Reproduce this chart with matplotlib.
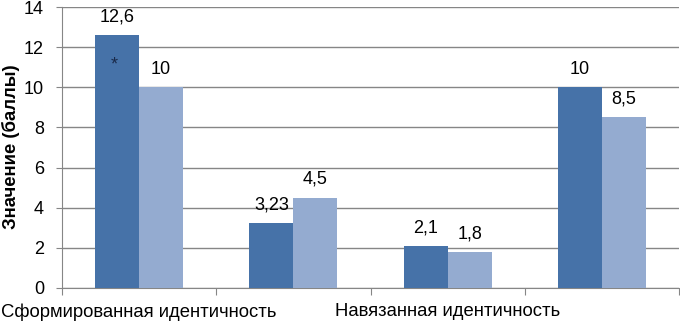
import matplotlib
matplotlib.use("Agg")
import matplotlib.pyplot as plt
import numpy as np

plt.rcParams['font.family'] = ['Liberation Sans', 'DejaVu Sans']

categories = ["Сформированная идентичность", "", "Навязанная идентичность", ""]
series1 = [12.6, 3.23, 2.1, 10]
series2 = [10, 4.5, 1.8, 8.5]
labels1 = ["12,6", "3,23", "2,1", "10"]
labels2 = ["10", "4,5", "1,8", "8,5"]
ylabel = "Значение (баллы)"

c1 = "#4672A8"
c2 = "#94ABD0"
grid_c = "#868686"

fig = plt.figure(figsize=(6.8, 3.21), dpi=100)
ax = fig.add_axes([62/680, 1-288/321, (679-62)/680, (288-7)/321])

x = np.arange(len(categories))
w = 0.285
b1 = ax.bar(x - w/2, series1, w, color=c1, zorder=3)
b2 = ax.bar(x + w/2, series2, w, color=c2, zorder=3)

fs = 13
for rect, lab in zip(b1, labels1):
    ax.annotate(lab, (rect.get_x() + rect.get_width()/2, rect.get_height()),
                xytext=(0, 7), textcoords="offset points", ha="center", va="bottom",
                fontsize=fs, color="black")
for rect, lab in zip(b2, labels2):
    ax.annotate(lab, (rect.get_x() + rect.get_width()/2, rect.get_height()),
                xytext=(0, 7), textcoords="offset points", ha="center", va="bottom",
                fontsize=fs, color="black")

# asterisk inside first bar
ax.text(x[0] - w/2 - 0.02, 11.1, "*", ha="center", va="center", fontsize=13, color="#1a2a4a", zorder=4)

ax.set_xlim(-0.5, len(categories) - 0.5)
ax.set_ylim(0, 14)
ax.set_yticks(np.arange(0, 15, 2))
ax.yaxis.grid(True, color=grid_c, linewidth=1, zorder=0)
ax.set_axisbelow(True)

ax.set_xticks(np.arange(-0.5, len(categories), 1))
ax.set_xticklabels([])
ax.set_xticks(x, minor=True)
ax.set_xticklabels(categories, minor=True, fontsize=13.3)
ax.tick_params(axis='x', which='minor', length=0, pad=11)
ax.tick_params(axis='x', which='major', length=5, color=grid_c, direction='out')
ax.tick_params(axis='y', length=4, color=grid_c, labelsize=fs, pad=9)

for s in ["top", "right"]:
    ax.spines[s].set_visible(False)
ax.spines["left"].set_color(grid_c)
ax.spines["bottom"].set_color(grid_c)

ax.set_ylabel(ylabel, fontsize=13.3, fontweight="bold")
ax.yaxis.set_label_coords(-0.068, 0.502)

fig.savefig("out.png", dpi=100)
